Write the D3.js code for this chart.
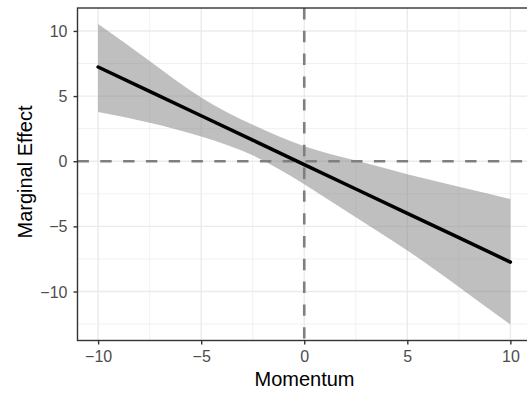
<!DOCTYPE html>
<html><head><meta charset="utf-8">
<script src="https://cdn.jsdelivr.net/npm/d3@7"></script>
<style>body{margin:0;background:#fff;}svg{display:block;font-family:"Liberation Sans",Arial,sans-serif;}</style>
</head><body><svg id="c" width="527" height="394"></svg>
<script>
const momentum = [-10, -7.5, -5, -2.5, 0, 2.5, 5, 7.5, 10];
const effect   = [7.23, 5.36, 3.49, 1.62, -0.26, -2.13, -4.0, -5.87, -7.74];
const upper    = [10.54, 7.7, 4.9, 2.8, 1.15, 0.05, -1.0, -1.95, -2.9];
const lower    = [3.77, 2.95, 1.9, 0.45, -1.77, -4.3, -6.85, -9.65, -12.54];
const xTicks = [-10, -5, 0, 5, 10];
const yTicks = [-10, -5, 0, 5, 10];
const xMinor = [-7.5, -2.5, 2.5, 7.5];
const yMinor = [-12.5, -7.5, -2.5, 2.5, 7.5];

(function () {
const svg = d3.select("#c");
const pl = 77.5, pt = 8, pb = 340.5;
const x = d3.scaleLinear().domain([-11, 11]).range([pl, 531]);
const y = d3.scaleLinear().domain([-13.76, 11.76]).range([pb, pt]);
const pr = x(11);
const fmt = d => d < 0 ? "\u2212" + Math.abs(d) : String(d);

const g = svg.append("g");
g.selectAll(".vmin").data(xMinor).join("line").attr("x1", d => x(d)).attr("x2", d => x(d))
  .attr("y1", pt).attr("y2", pb).attr("stroke", "#EBEBEB").attr("stroke-width", 0.7);
g.selectAll(".hmin").data(yMinor).join("line").attr("y1", d => y(d)).attr("y2", d => y(d))
  .attr("x1", pl).attr("x2", pr).attr("stroke", "#EBEBEB").attr("stroke-width", 0.7);
g.selectAll(".vmaj").data(xTicks).join("line").attr("x1", d => x(d)).attr("x2", d => x(d))
  .attr("y1", pt).attr("y2", pb).attr("stroke", "#EBEBEB").attr("stroke-width", 1.4);
g.selectAll(".hmaj").data(yTicks).join("line").attr("y1", d => y(d)).attr("y2", d => y(d))
  .attr("x1", pl).attr("x2", pr).attr("stroke", "#EBEBEB").attr("stroke-width", 1.4);

const pts = momentum.map((m, i) => ({m, e: effect[i], u: upper[i], l: lower[i]}));
g.append("path").datum(pts)
  .attr("d", d3.area().x(d => x(d.m)).y0(d => y(d.l)).y1(d => y(d.u)).curve(d3.curveNatural))
  .attr("fill", "#7F7F7F").attr("fill-opacity", 0.5);
g.append("line").attr("x1", pl).attr("x2", pr).attr("y1", y(0)).attr("y2", y(0))
  .attr("stroke", "#7F7F7F").attr("stroke-width", 2.6).attr("stroke-dasharray", "11.4,11.4");
g.append("line").attr("x1", x(0)).attr("x2", x(0)).attr("y1", pt).attr("y2", pb)
  .attr("stroke", "#7F7F7F").attr("stroke-width", 2.6).attr("stroke-dasharray", "11.4,11.4");
g.append("path").datum(pts)
  .attr("d", d3.line().x(d => x(d.m)).y(d => y(d.e)))
  .attr("fill", "none").attr("stroke", "#000").attr("stroke-width", 3.5).attr("stroke-linecap", "round");
g.append("rect").attr("x", pl).attr("y", pt).attr("width", pr - pl).attr("height", pb - pt)
  .attr("fill", "none").attr("stroke", "#333333").attr("stroke-width", 1.4);

const xa = svg.append("g").attr("transform", `translate(0,${pb})`)
  .call(d3.axisBottom(x).tickValues(xTicks).tickFormat(fmt).tickSize(4).tickPadding(6));
const ya = svg.append("g").attr("transform", `translate(${pl},0)`)
  .call(d3.axisLeft(y).tickValues(yTicks).tickFormat(fmt).tickSize(4).tickPadding(6));
[xa, ya].forEach(a => {
  a.select(".domain").remove();
  a.selectAll(".tick line").attr("stroke", "#333333").attr("stroke-width", 1.4);
  a.selectAll(".tick text").attr("fill", "#4D4D4D").style("font-size", "16px")
    .style("font-family", '"Liberation Sans",Arial,sans-serif');
});
ya.selectAll(".tick text").attr("dy", "0.35em");

svg.append("text").attr("x", 304.5).attr("y", 386).attr("text-anchor", "middle")
  .style("font-size", "20px").attr("fill", "#000").text("Momentum");
svg.append("text").attr("transform", `translate(32,172) rotate(-90)`)
  .attr("text-anchor", "middle").style("font-size", "20px").attr("fill", "#000").text("Marginal Effect");
})();
</script></body></html>
